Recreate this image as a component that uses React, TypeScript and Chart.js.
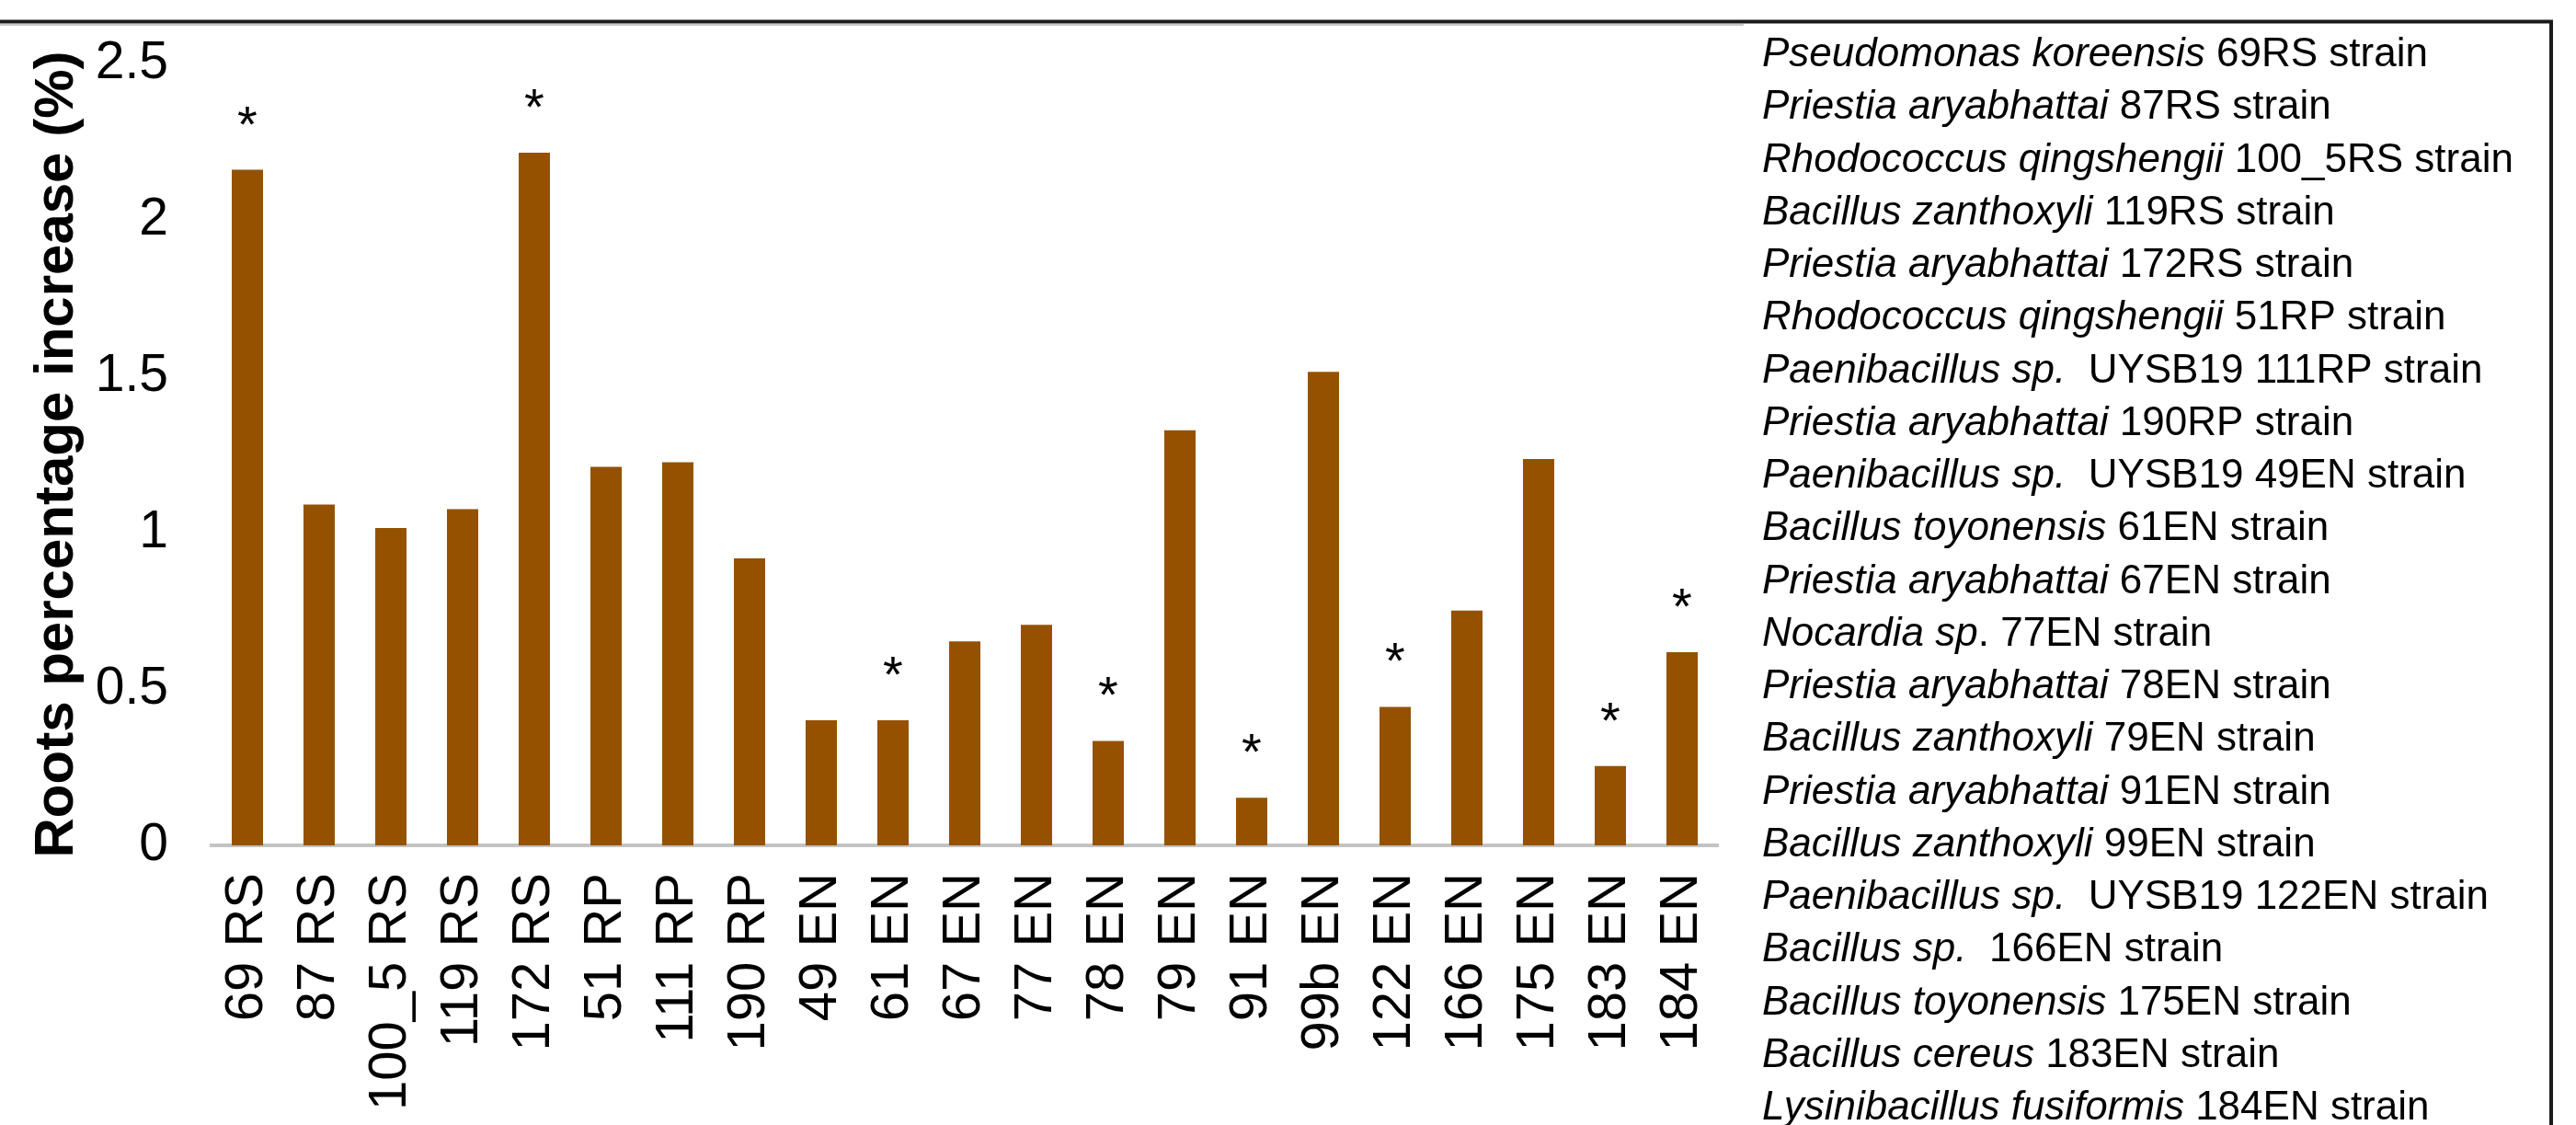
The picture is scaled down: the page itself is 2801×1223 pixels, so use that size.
import React, { useEffect, useRef } from 'react';
import { Chart, registerables } from 'chart.js';

Chart.register(...registerables);

const categories = [
  '69 RS', '87 RS', '100_5 RS', '119 RS', '172 RS', '51 RP', '111 RP', '190 RP',
  '49 EN', '61 EN', '67 EN', '77 EN', '78 EN', '79 EN', '91 EN', '99b EN',
  '122 EN', '166 EN', '175 EN', '183 EN', '184 EN',
];

const rootIncrease = [
  2.16, 1.09, 1.015, 1.075, 2.215, 1.21, 1.225, 0.918,
  0.40, 0.40, 0.652, 0.705, 0.334, 1.327, 0.152, 1.514,
  0.443, 0.751, 1.235, 0.254, 0.618,
];

const significant = [
  true, false, false, false, true, false, false, false,
  false, true, false, false, true, false, true, false,
  true, false, false, true, true,
];

const yTickValues = [0, 0.5, 1, 1.5, 2, 2.5];

const speciesNames = [
  'Pseudomonas koreensis', 'Priestia aryabhattai', 'Rhodococcus qingshengii',
  'Bacillus zanthoxyli', 'Priestia aryabhattai', 'Rhodococcus qingshengii',
  'Paenibacillus sp.', 'Priestia aryabhattai', 'Paenibacillus sp.',
  'Bacillus toyonensis', 'Priestia aryabhattai', 'Nocardia sp',
  'Priestia aryabhattai', 'Bacillus zanthoxyli', 'Priestia aryabhattai',
  'Bacillus zanthoxyli', 'Paenibacillus sp.', 'Bacillus sp.',
  'Bacillus toyonensis', 'Bacillus cereus', 'Lysinibacillus fusiformis',
];

const strainNames = [
  ' 69RS strain', ' 87RS strain', ' 100_5RS strain', ' 119RS strain', ' 172RS strain',
  ' 51RP strain', '  UYSB19 111RP strain', ' 190RP strain', '  UYSB19 49EN strain',
  ' 61EN strain', ' 67EN strain', '. 77EN strain', ' 78EN strain', ' 79EN strain',
  ' 91EN strain', ' 99EN strain', '  UYSB19 122EN strain', '  166EN strain',
  ' 175EN strain', ' 183EN strain', ' 184EN strain',
];

const FONT = "'Liberation Sans', Arial, Helvetica, sans-serif";
const BAR_COLOR = '#945200';

const overlayPlugin = {
  id: 'overlay',
  afterDatasetsDraw(chart: any) {
    const ctx = chart.ctx;
    const meta = chart.getDatasetMeta(0);
    ctx.save();
    ctx.fillStyle = '#000';
    ctx.font = `56px ${FONT}`;
    ctx.textAlign = 'center';
    ctx.textBaseline = 'alphabetic';
    meta.data.forEach((bar: any, i: number) => {
      if (significant[i]) ctx.fillText('*', bar.x, bar.y - 31);
    });
    ctx.restore();
  },
  afterDraw(chart: any) {
    const ctx = chart.ctx;
    const area = chart.chartArea;
    const W = chart.width;
    const H = chart.height;
    ctx.save();
    // frame lines
    ctx.strokeStyle = '#c8c8c8';
    ctx.lineWidth = 2;
    ctx.beginPath();
    ctx.moveTo(0, 27);
    ctx.lineTo(area.right + 28, 27);
    ctx.stroke();
    ctx.strokeStyle = '#1a1a1a';
    ctx.lineWidth = 4;
    ctx.beginPath();
    ctx.moveTo(0, 23.5);
    ctx.lineTo(W - 27, 23.5);
    ctx.lineTo(W - 27, H);
    ctx.stroke();

    // legend text
    const x0 = area.right + 48;
    const y0 = 72;
    const step = 57.25;
    ctx.fillStyle = '#000';
    ctx.textAlign = 'left';
    ctx.textBaseline = 'alphabetic';
    speciesNames.forEach((name, i) => {
      const y = y0 + i * step;
      ctx.font = `italic 44px ${FONT}`;
      ctx.fillText(name, x0, y);
      const w = ctx.measureText(name).width;
      ctx.font = `44px ${FONT}`;
      ctx.fillText(strainNames[i], x0 + w, y);
    });
    ctx.restore();
  },
};

export default function App() {
  const canvasRef = useRef<HTMLCanvasElement | null>(null);

  useEffect(() => {
    if (!canvasRef.current) return;
    Chart.defaults.font.family = FONT;
    Chart.defaults.color = '#000';
    const chart = new Chart(canvasRef.current, {
      type: 'bar',
      data: {
        labels: categories,
        datasets: [
          {
            label: 'Roots percentage increase (%)',
            data: rootIncrease,
            backgroundColor: BAR_COLOR,
            borderWidth: 0,
            categoryPercentage: 1,
            barPercentage: 0.436,
          },
        ],
      },
      options: {
        animation: false,
        responsive: true,
        maintainAspectRatio: false,
        devicePixelRatio: 1,
        layout: { padding: { top: 69, right: 933, bottom: 0, left: 0 } },
        plugins: {
          legend: { display: false },
          tooltip: { enabled: false },
          title: { display: false },
        },
        scales: {
          x: {
            grid: { display: false, drawTicks: false },
            border: { display: true, color: '#c3c3c3', width: 4 },
            ticks: {
              autoSkip: false,
              minRotation: 90,
              maxRotation: 90,
              padding: 30,
              color: '#000',
              font: { size: 58, family: FONT },
            },
            afterFit: (scale: any) => {
              scale.height = 304;
            },
          },
          y: {
            min: 0,
            max: 2.5,
            grid: { display: false, drawTicks: false },
            border: { display: false },
            afterBuildTicks: (scale: any) => {
              scale.ticks = yTickValues.map((v) => ({ value: v }));
            },
            ticks: {
              padding: 47,
              color: '#000',
              font: { size: 57, family: FONT },
              callback: (v: any) => String(v),
            },
            title: {
              display: true,
              text: 'Roots percentage increase (%)',
              color: '#000',
              font: { size: 60, weight: 'bold', family: FONT },
              padding: { top: 26, bottom: 0 },
            },
            afterFit: (scale: any) => {
              scale.width = 230;
              scale.paddingTop = 0;
              scale.paddingBottom = 0;
            },
          },
        },
      },
      plugins: [overlayPlugin],
    } as any);
    return () => chart.destroy();
  }, []);

  return (
    <div
      style={{
        position: 'fixed',
        left: 0,
        top: 0,
        width: '2801px',
        height: '1223px',
        background: '#fff',
      }}
    >
      <canvas ref={canvasRef} />
    </div>
  );
}
